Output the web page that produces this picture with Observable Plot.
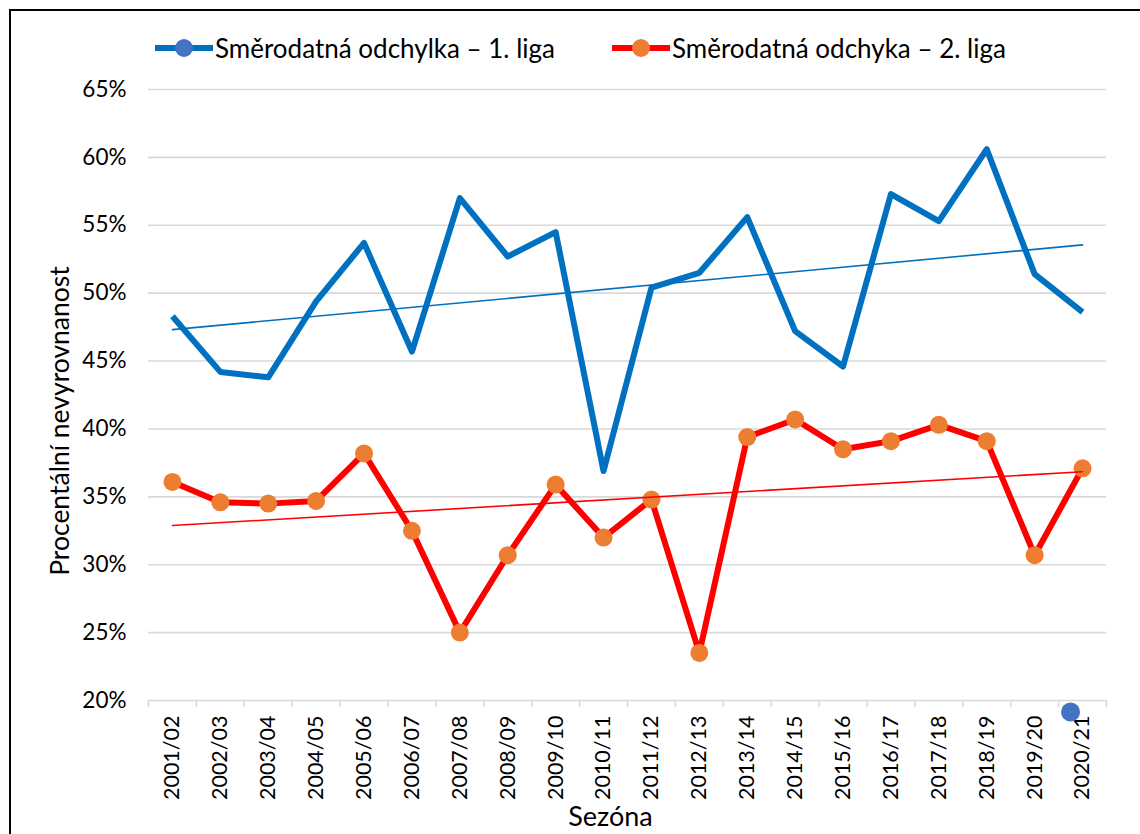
<!DOCTYPE html>
<html>
<head>
<meta charset="utf-8">
<script src="https://cdn.jsdelivr.net/npm/d3@7"></script>
<script src="https://cdn.jsdelivr.net/npm/@observablehq/plot@0.6"></script>
<style>
  html, body { margin: 0; padding: 0; background: #fff; }
  #wrap { position: relative; width: 1140px; height: 834px; overflow: hidden; font-family: Lato, "Open Sans", sans-serif; }
  #frame { position: absolute; left: 9px; top: 9px; width: 1200px; height: 900px; border-left: 2px solid #000; border-top: 2px solid #000; pointer-events: none; }
  #legend { position: relative; height: 62px; }
  .item { position: absolute; top: 48px; display: flex; align-items: center; font-size: 26px; color: #000; white-space: nowrap; }
  .item svg { display: block; margin-right: 2px; }
</style>
</head>
<body>
<div id="wrap">
  <div id="legend"></div>
  <div id="chart"></div>
  <div id="frame"></div>
</div>
<script>
// ---- data ----
const seasons = ["2001/02","2002/03","2003/04","2004/05","2005/06","2006/07","2007/08","2008/09","2009/10","2010/11",
                 "2011/12","2012/13","2013/14","2014/15","2015/16","2016/17","2017/18","2018/19","2019/20","2020/21"];
const liga1 = [48.3,44.2,43.8,49.4,53.7,45.7,57.0,52.7,54.5,36.9,50.4,51.5,55.6,47.2,44.6,57.3,55.3,60.6,51.4,48.6];
const liga2 = [36.1,34.6,34.5,34.7,38.2,32.5,25.0,30.7,35.9,32.0,34.8,23.5,39.4,40.7,38.5,39.1,40.3,39.1,30.7,37.1];
const yTicks = [20,25,30,35,40,45,50,55,60,65];
const seriesNames = ["Směrodatná odchylka – 1. liga", "Směrodatná odchyka – 2. liga"];
// stray marker visible near the last season, below the axis
const strayDot = [{season: "2020/21", value: 19.15}];

const colors = {line1: "#0070C0", marker1: "#4472C4", line2: "#FF0000", marker2: "#ED7D31", grid: "#D9D9D9"};

const rows1 = seasons.map((s, i) => ({i, season: s, value: liga1[i]}));
const rows2 = seasons.map((s, i) => ({i, season: s, value: liga2[i]}));
const idx = seasons.map((_, i) => i);
const bounds = seasons.map((_, i) => i - 0.5).concat([seasons.length - 0.5]);
const stray = strayDot.map(d => ({i: seasons.indexOf(d.season), value: d.value}));

// ---- legend ----
const legend = document.getElementById("legend");
const legendItems = [
  {name: seriesNames[0], line: colors.line1, marker: colors.marker1, left: 155},
  {name: seriesNames[1], line: colors.line2, marker: colors.marker2, left: 612}
];
for (const it of legendItems) {
  const div = document.createElement("div");
  div.className = "item";
  div.style.left = it.left + "px";
  div.style.transform = "translateY(-50%)";
  div.innerHTML = `<svg width="58" height="22"><line x1="0" x2="58" y1="11" y2="11" stroke="${it.line}" stroke-width="6"/><circle cx="29" cy="11" r="9" fill="${it.marker}"/></svg><span>${it.name}</span>`;
  legend.appendChild(div);
}

// ---- chart ----
const H = 772;
const chart = Plot.plot({
  width: 1140,
  height: H,
  marginLeft: 148,
  marginRight: 34,
  marginTop: 27,
  marginBottom: 134,
  style: {fontFamily: "Lato, 'Open Sans', sans-serif", color: "#000", background: "transparent", overflow: "visible"},
  x: {domain: [-0.5, seasons.length - 0.5]},
  y: {domain: [20, 65]},
  marks: [
    Plot.gridY(yTicks, {stroke: colors.grid, strokeOpacity: 1, strokeWidth: 1.6}),
    Plot.axisX({ticks: bounds, tickSize: 7, tickFormat: () => "", stroke: colors.grid, strokeOpacity: 1, strokeWidth: 1.6, label: null}),
    Plot.axisX({ticks: idx, tickFormat: i => seasons[i], tickRotate: -90, tickSize: 0, tickPadding: 15, fontSize: 21.5, label: null}),
    Plot.axisY({ticks: yTicks, tickFormat: d => d + "%", tickSize: 0, tickPadding: 22, fontSize: 22.5, label: null}),
    Plot.line(rows1, {x: "i", y: "value", stroke: colors.line1, strokeWidth: 6, strokeLinejoin: "round", strokeLinecap: "butt"}),
    Plot.line(rows2, {x: "i", y: "value", stroke: colors.line2, strokeWidth: 6, strokeLinejoin: "round", strokeLinecap: "butt"}),
    Plot.dot(rows2, {x: "i", y: "value", r: 9, fill: colors.marker2, stroke: "none"}),
    Plot.linearRegressionY(rows1, {x: "i", y: "value", stroke: colors.line1, strokeWidth: 1.6, ci: 0}),
    Plot.linearRegressionY(rows2, {x: "i", y: "value", stroke: colors.line2, strokeWidth: 1.6, ci: 0}),
    Plot.dot(stray, {x: "i", y: "value", r: 9.5, fill: colors.marker1, stroke: "none", dx: -12}),
    Plot.text(["Procentální nevyrovnanost"], {frameAnchor: "left", textAnchor: "middle", lineAnchor: "middle", rotate: -90, dx: -88, dy: 26, fontSize: 26.5, fill: "#000"}),
    Plot.text(["Sezóna"], {frameAnchor: "bottom", textAnchor: "middle", lineAnchor: "middle", dx: -17, dy: 117, fontSize: 27, fill: "#000"})
  ]
});
document.getElementById("chart").appendChild(chart);
</script>
</body>
</html>
